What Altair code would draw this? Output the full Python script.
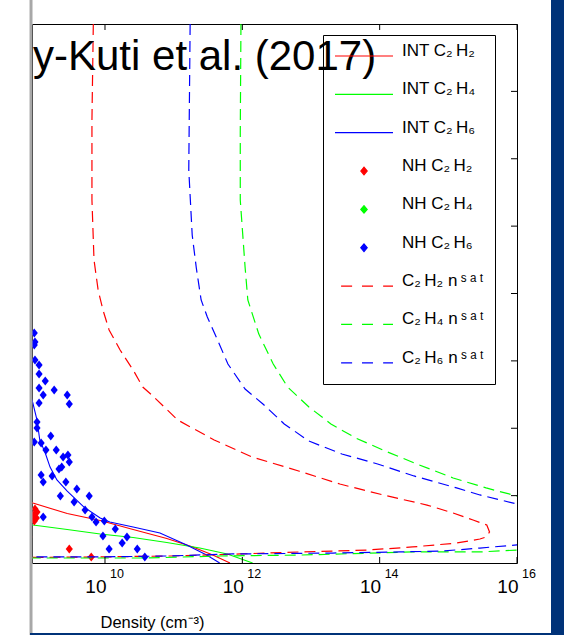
import altair as alt
import pandas as pd

FONT = "Liberation Sans"
TS = "\u2009"  # thin space, mimics the spacing of MATLAB's TeX sub/superscripts
SAT = "n" + TS + "ˢ" + TS + "ᵃ" + TS + "ᵗ"

# ---------------- series names / colours ----------------
SERIES = ["INT C₂" + TS + "H₂", "INT C₂" + TS + "H₄", "INT C₂" + TS + "H₆",
          "NH C₂" + TS + "H₂", "NH C₂" + TS + "H₄", "NH C₂" + TS + "H₆",
          "C₂" + TS + "H₂ " + SAT, "C₂" + TS + "H₄ " + SAT, "C₂" + TS + "H₆ " + SAT]
COLORS = ["#ff0000", "#00ff00", "#0000ff",
          "#ff0000", "#00ff00", "#0000ff",
          "#ff0000", "#00ff00", "#0000ff"]

# ---------------- data: log10(density / cm^-3) and altitude (km) ----------------
sat_c2h2_log = [9.83, 9.81, 9.81, 9.84, 9.90, 9.97, 10.06, 10.22, 10.41, 10.55, 10.68, 11.06,
                11.59, 12.14, 12.82, 13.42, 14.05, 14.69, 15.07, 15.36, 15.56, 15.60, 15.55,
                15.46, 15.12, 14.48, 13.81, 12.84, 11.97, 10.95, 9.93, 8.76]
sat_c2h2_alt = [400, 328.8, 269.4, 224.9, 202.6, 187.8, 172.9, 158.1, 143.2, 130.6, 124.7, 106.1,
                91.3, 78.7, 68.3, 58.6, 50.5, 43.0, 37.1, 31.9, 28.2, 23.0, 19.3,
                17.8, 14.8, 11.9, 9.6, 8.2, 6.7, 5.2, 4.5, 4.1]

sat_c2h4_log = [11.98, 11.97, 11.97, 12.04, 12.08, 12.24, 12.45, 12.66, 12.97, 13.29, 13.65, 14.08,
                14.54, 15.07, 15.55, 16.00, 16.62, 16.00, 15.46, 14.48, 12.84, 11.67, 10.61, 8.76]
sat_c2h4_alt = [400, 319.1, 269.4, 219.7, 195.2, 169.9, 147.7, 130.6, 115.8, 103.2, 92.8, 83.1,
                73.5, 63.1, 55.7, 49.7, 31.9, 9.6, 8.2, 8.2, 5.9, 5.2, 3.7, 3.7]

sat_c2h6_log = [11.24, 11.22, 11.27, 11.33, 11.40, 11.49, 11.62, 11.79, 12.04, 12.30, 12.61, 12.97,
                13.45, 13.97, 14.50, 15.12, 15.46, 16.00, 16.62, 16.00, 15.46, 14.92, 14.29, 13.32,
                11.86, 10.90, 9.93, 8.76]
sat_c2h6_alt = [400, 291.7, 243.4, 218.9, 195.2, 182.6, 167.7, 147.7, 129.1, 118.0, 103.2, 90.5,
                80.9, 73.5, 64.6, 55.7, 50.5, 43.8, 28.2, 13.4, 11.1, 8.9, 8.2, 7.4,
                6.7, 5.2, 4.5, 4.5]

int_c2h2_log = [8.76, 8.95, 9.45, 9.93, 10.41, 10.90, 11.28, 11.57, 11.82]
int_c2h2_alt = [48.2, 44.5, 36.7, 31.5, 24.9, 18.2, 11.9, 5.9, 0.0]

int_c2h4_log = [8.76, 8.95, 9.45, 9.93, 10.41, 10.90, 11.38, 11.78, 12.15]
int_c2h4_alt = [30.4, 28.2, 24.9, 21.5, 18.9, 15.2, 11.1, 6.7, 0.0]

int_c2h6_log = [8.76, 8.95, 9.01, 9.05, 9.13, 9.20, 9.30, 9.45, 9.69, 9.93, 10.07, 10.41,
                10.80, 11.19, 11.48, 11.67]
int_c2h6_alt = [150.6, 118.7, 106.1, 91.3, 81.6, 71.2, 61.6, 53.4, 41.6, 33.4, 30.4, 26.7,
                22.3, 13.4, 5.9, 0.0]

nh_c2h2_log = [8.98, 9.01, 8.95, 9.00, 8.97, 8.89, 9.48, 9.80]
nh_c2h2_alt = [40.1, 37.8, 35.6, 33.4, 31.2, 19.3, 10.4, 4.5]

nh_c2h4_log = []
nh_c2h4_alt = []

nh_c2h6_log = [8.97, 8.98, 8.97, 8.98, 9.04, 9.04, 9.13, 9.04, 9.10, 9.26, 9.45, 9.48, 9.04,
               9.01, 9.01, 8.97, 9.07, 9.21, 9.14, 9.29, 9.39, 9.46, 9.48, 9.37, 9.33, 9.23,
               9.07, 9.10, 9.43, 9.59, 9.35, 9.77, 9.55, 9.71, 9.81, 9.87, 9.99, 9.10, 9.97,
               10.15, 10.32, 10.25, 10.06, 10.47, 10.58]
nh_c2h6_alt = [170.7, 164.0, 161.8, 150.6, 146.9, 140.3, 135.1, 129.9, 124.7, 128.4, 124.7,
               118.0, 118.7, 104.6, 100.2, 89.8, 89.1, 94.2, 83.9, 83.9, 78.7, 80.1, 75.0,
               71.2, 69.8, 64.6, 65.3, 60.1, 60.1, 54.9, 49.7, 49.7, 45.3, 39.3, 34.1, 30.4,
               31.2, 34.1, 20.0, 25.2, 19.3, 14.8, 10.4, 10.4, 4.5]

# axis ticks / labels
x_tick_values = [1e10, 1e12, 1e14, 1e16]
x_tick_exponents = ["10", "12", "14", "16"]
y_tick_values = [50, 100, 150, 200, 250, 300, 350]
X_MIN, X_MAX = 8.65e8, 1e16
Y_MIN, Y_MAX = 0, 400
title_text = "y-Kuti et al. (2017)"
x_title = "Density (cm⁻³)"


def frame(name, logs, alts):
    df = pd.DataFrame({"log10n": logs, "alt": alts})
    df["series"] = name
    df["idx"] = range(len(df))
    df["density"] = 10.0 ** df["log10n"]
    return df


df_int = pd.concat([frame(SERIES[0], int_c2h2_log, int_c2h2_alt),
                    frame(SERIES[1], int_c2h4_log, int_c2h4_alt),
                    frame(SERIES[2], int_c2h6_log, int_c2h6_alt)], ignore_index=True)
df_nh = pd.concat([frame(SERIES[3], nh_c2h2_log, nh_c2h2_alt),
                   frame(SERIES[4], nh_c2h4_log, nh_c2h4_alt),
                   frame(SERIES[5], nh_c2h6_log, nh_c2h6_alt)], ignore_index=True)
df_sat = pd.concat([frame(SERIES[6], sat_c2h2_log, sat_c2h2_alt),
                    frame(SERIES[7], sat_c2h4_log, sat_c2h4_alt),
                    frame(SERIES[8], sat_c2h6_log, sat_c2h6_alt)], ignore_index=True)
df_xt = pd.DataFrame({"density": x_tick_values, "exp": x_tick_exponents})
df_yt = pd.DataFrame({"alt": y_tick_values})
df_leg = pd.DataFrame({"series": SERIES})
df_title = pd.DataFrame({"t": [title_text]})

x_axis = alt.Axis(values=x_tick_values, labelExpr="'10'", ticks=False, domain=False, grid=False,
                  labelFont=FONT, labelFontSize=19, labelColor="black", labelAlign="right",
                  labelOffset=1, labelBaseline="alphabetic", labelPadding=29, labelFlush=False,
                  labelOverlap=False, titleFont=FONT, titleFontSize=16.5, titleFontWeight="normal",
                  titleColor="black", titleX=68, titleY=64, titleAlign="left",
                  titleBaseline="alphabetic")
X = alt.X("density:Q", scale=alt.Scale(type="log", domain=[X_MIN, X_MAX], nice=False),
          axis=x_axis, title=x_title)
Y = alt.Y("alt:Q", scale=alt.Scale(domain=[Y_MIN, Y_MAX], nice=False, zero=False), axis=None)

# data layers: colour scale (listed in reverse so it stays apart from the legend scales)
color_scale = alt.Scale(domain=SERIES[::-1], range=COLORS[::-1])

LINE = "M-1,0L1,0"
DASH = "M-0.79,0L-0.41,0M-0.07,0L0.31,0M0.66,0L1,0"
DIAM = "M-0.11,0L0,-0.13L0.11,0L0,0.13Z"
legend_shapes = [LINE, LINE, LINE, DIAM, DIAM, DIAM, DASH, DASH, DASH]

int_lines = alt.Chart(df_int).mark_line(clip=True, strokeWidth=1.1).encode(
    x=X, y=Y, order="idx:Q",
    color=alt.Color("series:N", scale=color_scale, legend=None))

nh_points = alt.Chart(df_nh).mark_point(clip=True, filled=True, opacity=1, size=80,
                                        shape="M-0.8,0L0,-1L0.8,0L0,1Z", strokeWidth=0).encode(
    x=X, y=Y, color=alt.Color("series:N", scale=color_scale, legend=None))

sat_lines = alt.Chart(df_sat).mark_line(clip=True, strokeWidth=1.2, strokeDash=[11, 6]).encode(
    x=X, y=Y, order="idx:Q",
    color=alt.Color("series:N", scale=color_scale, legend=None))

# frame ticks pointing inward
bottom_ticks = alt.Chart(df_xt).mark_rule(color="black", strokeWidth=1).encode(
    x=X, y=alt.value(533), y2=alt.value(539))
top_ticks = alt.Chart(df_xt).mark_rule(color="black", strokeWidth=1).encode(
    x=X, y=alt.value(0), y2=alt.value(6))
right_ticks = alt.Chart(df_yt).mark_rule(color="black", strokeWidth=1).encode(
    y=Y, x=alt.value(479), x2=alt.value(485))
exponents = alt.Chart(df_xt).mark_text(align="left", baseline="alphabetic", dx=5, font=FONT,
                                       fontSize=12.5, color="black").encode(
    x=X, y=alt.value(554), text="exp:N")

# page decorations of the screenshot
gray_light = alt.Chart(df_title).mark_rule(color="#d6d6d6", strokeWidth=1).encode(
    x=alt.value(-2.5), y=alt.value(-30), y2=alt.value(620))
gray_dark = alt.Chart(df_title).mark_rule(color="#a8a8a8", strokeWidth=2.5).encode(
    x=alt.value(-0.75), y=alt.value(-30), y2=alt.value(620))
blue_bar = alt.Chart(df_title).mark_rect(color="#003278").encode(
    x=alt.value(519), x2=alt.value(545), y=alt.value(-30), y2=alt.value(620))
blue_bottom = alt.Chart(df_title).mark_rule(color="#003278", strokeWidth=2).encode(
    x=alt.value(-2), x2=alt.value(545), y=alt.value(610))

title = alt.Chart(df_title).mark_text(align="left", baseline="alphabetic", font=FONT,
                                      fontSize=42, color="black").encode(
    x=alt.value(1), y=alt.value(46), text="t:N")

leg = alt.Legend(title=None, orient="none", legendX=291, legendY=11, direction="vertical",
                 strokeColor="black", padding=11, symbolSize=3364, symbolStrokeWidth=1.2,
                 clipHeight=20, rowPadding=14.35, labelOffset=8, labelFont=FONT,
                 labelFontSize=17, labelColor="black", labelBaseline="alphabetic",
                 labelLimit=300)
legend_layer = alt.Chart(df_leg).transform_filter("false").mark_point(
    filled=True, opacity=1, strokeWidth=1.2).encode(
    fill=alt.Fill("series:N", scale=alt.Scale(domain=SERIES, range=COLORS), legend=leg),
    stroke=alt.Stroke("series:N", scale=alt.Scale(domain=SERIES, range=COLORS), legend=leg),
    shape=alt.Shape("series:N", scale=alt.Scale(domain=SERIES, range=legend_shapes), legend=leg))

chart = alt.layer(
    int_lines, nh_points, sat_lines, bottom_ticks, top_ticks, right_ticks, exponents,
    gray_light, gray_dark, blue_bar, blue_bottom, title, legend_layer
).properties(
    width=485, height=539,
    padding={"left": 32, "top": 24, "right": 47, "bottom": 72},
    autosize=alt.AutoSizeParams(type="none"),
    background="white",
).configure_view(stroke="black", strokeWidth=1)

chart.save("out.html", embed_options={"renderer": "svg", "actions": False})
